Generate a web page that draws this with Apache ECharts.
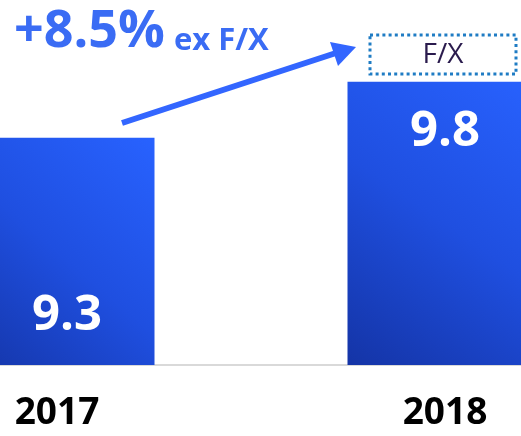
<!DOCTYPE html>
<html>
<head>
<meta charset="utf-8">
<script src="https://cdn.jsdelivr.net/npm/echarts@6/dist/echarts.min.js"></script>
<style>
html,body{margin:0;padding:0;background:#fff;overflow:hidden;width:521px;height:436px;}
#wrap{position:relative;width:521px;height:436px;overflow:hidden;}
#c{position:absolute;left:-137px;top:0;width:776px;height:436px;}
</style>
</head>
<body>
<div id="wrap"><div id="c"></div></div>
<script>
const categories = ['2017', '2018'];
const values = [9.3, 9.8];
const titleMain = '+8.5%';
const titleSub = 'ex F/X';
const boxLabel = 'F/X';

const font = '"Open Sans", "Noto Sans", sans-serif';
const OX = 137; // horizontal offset of the wider canvas
const barGrad = new echarts.graphic.LinearGradient(0, 1, 1, 0, [
  {offset: 0, color: '#1434a6'},
  {offset: 0.5, color: '#1f4fe0'},
  {offset: 1, color: '#2862ff'}
]);

const chart = echarts.init(document.getElementById('c'), null, {renderer: 'canvas'});
chart.setOption({
  animation: false,
  backgroundColor: '#ffffff',
  grid: {left: 0, right: 0, top: 0, bottom: 71},
  xAxis: {
    type: 'category',
    data: categories,
    axisLine: {show: true, lineStyle: {color: '#d9d9d9', width: 2}},
    axisTick: {show: false},
    axisLabel: {color: '#000', fontSize: 37, fontWeight: 'bold', fontFamily: font, margin: 30}
  },
  yAxis: {
    type: 'value', min: 7.27, max: 10.53,
    show: false, splitLine: {show: false}
  },
  series: [{
    type: 'bar',
    barWidth: 195,
    itemStyle: {color: barGrad},
    data: [
      {value: values[0], label: {show: true, position: 'insideBottom', distance: 24, offset: [10, 0]}},
      {value: values[1], label: {show: true, position: 'insideTop', distance: 26, offset: [0, 0]}}
    ],
    label: {color: '#fff', fontSize: 49, fontWeight: 'bold', fontFamily: font}
  }],
  graphic: [
    {
      type: 'text', x: OX + 14, y: 32,
      style: {text: titleMain, fontSize: 52, fontWeight: 'bold', fill: '#3a6cf4', fontFamily: font, verticalAlign: 'middle'}
    },
    {
      type: 'text', x: OX + 174, y: 41,
      style: {text: titleSub, fontSize: 31, fontWeight: 'bold', fill: '#3a6cf4', fontFamily: font, verticalAlign: 'middle'}
    },
    {
      type: 'line',
      shape: {x1: OX + 122, y1: 123, x2: OX + 336, y2: 53},
      style: {stroke: '#3366ff', lineWidth: 6}
    },
    {
      type: 'polygon',
      shape: {points: [[OX + 356, 47], [OX + 330, 42], [OX + 338, 66]]},
      style: {fill: '#3366ff'}
    },
    {
      type: 'rect',
      shape: {x: OX + 370, y: 35, width: 146, height: 39},
      style: {fill: 'none', stroke: '#1f7cc4', lineWidth: 3, lineDash: [3, 3.2]}
    },
    {
      type: 'text', x: OX + 443, y: 55,
      style: {text: boxLabel, fontSize: 28, fill: '#2a1b4d', fontFamily: font, align: 'center', verticalAlign: 'middle'}
    }
  ]
});
</script>
</body>
</html>
